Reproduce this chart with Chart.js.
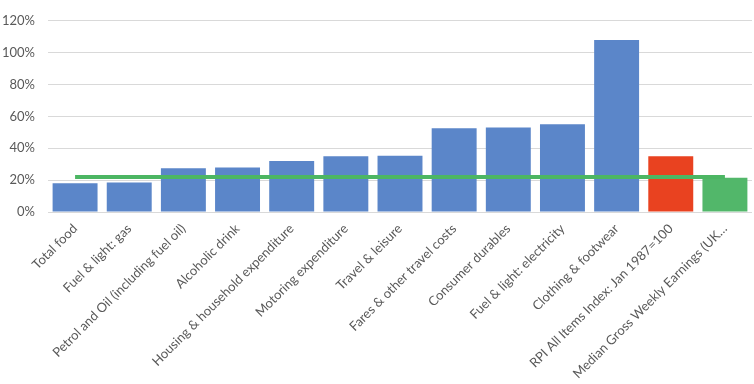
<!DOCTYPE html>
<html>
<head>
<meta charset="utf-8">
<script src="https://cdn.jsdelivr.net/npm/chart.js@4/dist/chart.umd.min.js"></script>
<style>
  html, body { margin: 0; padding: 0; background: #fff; }
  #wrap { width: 754px; height: 384px; position: relative; }
</style>
</head>
<body>
<div id="wrap"><canvas id="chart"></canvas></div>
<script>
// categories (x axis)
const categories = [
  'Total food',
  'Fuel & light: gas',
  'Petrol and Oil (including fuel oil)',
  'Alcoholic drink',
  'Housing & household expenditure',
  'Motoring expenditure',
  'Travel & leisure',
  'Fares & other travel costs',
  'Consumer durables',
  'Fuel & light: electricity',
  'Clothing & footwear',
  'RPI All Items Index: Jan 1987=100',
  'Median Gross Weekly Earnings (UK…'
];

// % change
const increases = [18, 18.5, 27.5, 28, 32, 35, 35.3, 52.5, 53, 55, 108, 35, 21.5];

// flat reference line
const reference = [22, 22, 22, 22, 22, 22, 22, 22, 22, 22, 22, 22, 22];

const yTicks = [0, 20, 40, 60, 80, 100, 120];

const blue = '#5b86c9';
const red = '#e94220';
const green = '#52b76a';
const barColors = categories.map((c, i) =>
  i === 11 ? red : (i === 12 ? green : blue));

Chart.defaults.font.family = 'Lato, "Open Sans", sans-serif';
Chart.defaults.font.size = 13;
Chart.defaults.color = '#595959';

new Chart(document.getElementById('chart'), {
  type: 'bar',
  data: {
    labels: categories,
    datasets: [
      {
        type: 'line',
        data: reference,
        borderColor: '#4cb663',
        borderWidth: 4,
        pointRadius: 0,
        order: 0
      },
      {
        type: 'bar',
        data: increases,
        backgroundColor: barColors,
        categoryPercentage: 1,
        barPercentage: 0.83,
        order: 1
      }
    ]
  },
  options: {
    responsive: true,
    maintainAspectRatio: false,
    animation: false,
    layout: { padding: { left: 2, right: 2, top: 12, bottom: 0 } },
    plugins: { legend: { display: false }, tooltip: { enabled: false } },
    scales: {
      x: {
        grid: { display: false },
        border: { display: false },
        ticks: { minRotation: 45, maxRotation: 45, autoSkip: false, padding: 1, font: { size: 13 } },
        afterFit(axis) { axis.height = 172; }
      },
      y: {
        min: 0,
        max: 120,
        afterBuildTicks(axis) { axis.ticks = yTicks.map(v => ({ value: v })); },
        ticks: { padding: 13, callback: v => v + '%' },
        grid: { color: '#d9d9d9', lineWidth: 1, drawTicks: false },
        border: { display: false },
        afterFit(axis) { axis.width = 46; }
      }
    }
  }
});
</script>
</body>
</html>
